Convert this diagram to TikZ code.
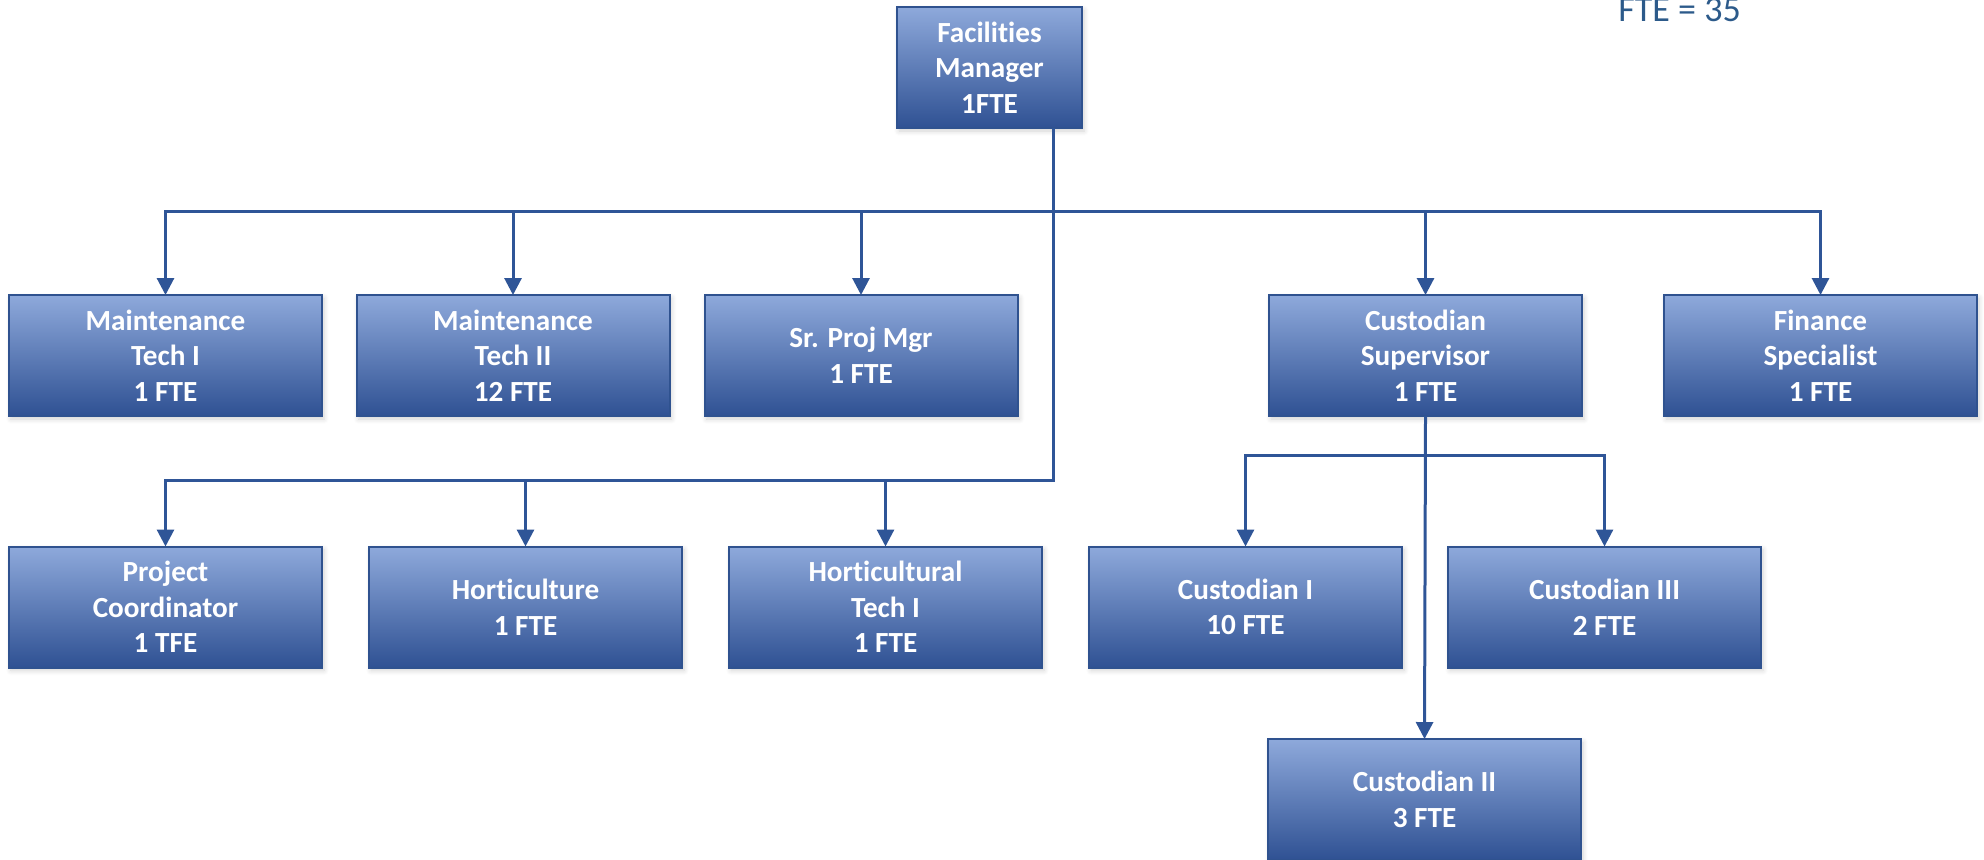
\documentclass[tikz,border=0pt]{standalone}
\usepackage{fontspec}
\setmainfont[Ligatures=NoCommon]{Carlito}
\usetikzlibrary{arrows.meta,shadows.blur}

\definecolor{boxtop}{HTML}{8EA9DB}
\definecolor{boxmid}{HTML}{4672C4}
\definecolor{boxbot}{HTML}{2F5193}
\definecolor{boxedge}{HTML}{2F528F}
\definecolor{linkblue}{HTML}{2F5597}
\definecolor{notetext}{HTML}{2C5A8A}

\tikzset{
  orgbox/.style={
    rectangle, draw=boxedge, line width=1pt,
    top color=boxtop, middle color=boxmid, bottom color=boxbot,
    minimum width=156.5pt, minimum height=60.5pt,
    inner sep=0pt, outer sep=0pt,
    text=white, align=center,
    font=\fontsize{14.6pt}{17.8pt}\selectfont\bfseries,
    blur shadow={shadow xshift=1pt, shadow yshift=-1.5pt,
                 shadow opacity=18, shadow blur steps=6, shadow blur radius=2.5pt}
  },
  link/.style={draw=linkblue, line width=1.5pt},
  arr/.style={link, -{Triangle[length=8.5pt, width=8.5pt]}},
}

\begin{document}
\begin{tikzpicture}[x=0.5pt, y=-0.5pt]
  \useasboundingbox (0,0) rectangle (1984,859);

  % bus lines and trunk positions
  \coordinate (trunk) at (1053,0);
  \coordinate (bus1) at (0,211);
  \coordinate (bus2) at (0,480);
  \coordinate (bus3) at (0,455);

  % top
  \node[orgbox, minimum width=92.5pt] (fm) at (989.5,67.5) {Facilities\\Manager\\1FTE};

  % first row
  \node[orgbox] (mt1) at (165.5,355.5) {Maintenance\\Tech I\\1 FTE};
  \node[orgbox] (mt2) at (513,355.5)   {Maintenance\\Tech II\\12 FTE};
  \node[orgbox] (spm) at (861,355.5)   {Sr. Proj Mgr\\1 FTE};
  \node[orgbox] (cs)  at (1425.5,355.5) {Custodian\\Supervisor\\1 FTE};
  \node[orgbox] (fs)  at (1820.5,355.5) {Finance\\Specialist\\1 FTE};

  % second row
  \node[orgbox] (pc)  at (165.5,607)  {Project\\Coordinator\\1 TFE};
  \node[orgbox] (hor) at (525.5,607)  {Horticulture\\1 FTE};
  \node[orgbox] (ht)  at (885.5,607)  {Horticultural\\Tech I\\1 FTE};
  \node[orgbox] (c1)  at (1245.5,607) {Custodian I\\10 FTE};
  \node[orgbox] (c3)  at (1604.5,607) {Custodian III\\2 FTE};

  % third row
  \node[orgbox] (c2)  at (1424.5,799.5) {Custodian II\\3 FTE};

  % headcount note
  \node[anchor=base west, inner sep=0pt, text=notetext,
        font=\fontsize{18pt}{21pt}\selectfont] (total) at (1618,21) {FTE = 35};

  % connectors from the manager
  \foreach \t in {mt1,mt2,spm,cs,fs}
    \draw[arr] (fm.south -| trunk) -- (trunk |- bus1) -| (\t.north);
  \foreach \t in {pc,hor,ht}
    \draw[arr] (fm.south -| trunk) -- (trunk |- bus2) -| (\t.north);

  % connectors from the custodian supervisor
  \foreach \t in {c1,c3}
    \draw[arr] (cs.south) -- (cs.south |- bus3) -| (\t.north);
  \draw[arr] (cs.south) -- (c2.north);
\end{tikzpicture}
\end{document}
